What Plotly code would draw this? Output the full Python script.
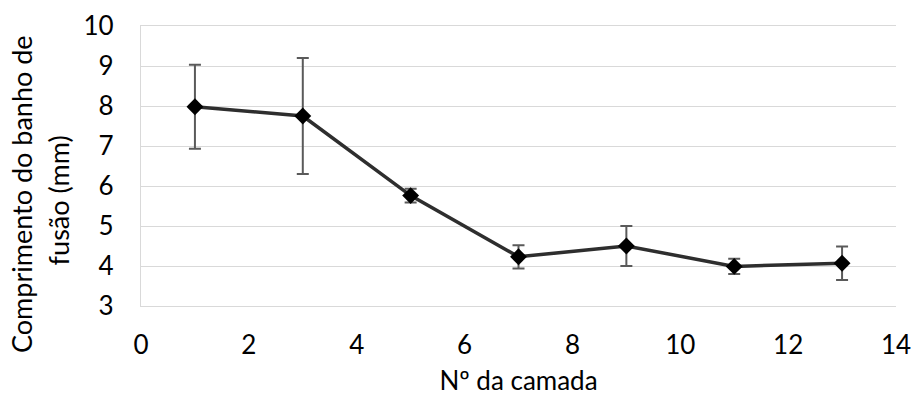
import plotly.graph_objects as go

# Layer number and measured melt-pool length (mean ± std)
camada = [1, 3, 5, 7, 9, 11, 13]
comprimento = [7.98, 7.75, 5.76, 4.23, 4.50, 3.99, 4.07]
desvio = [1.05, 1.45, 0.17, 0.29, 0.50, 0.19, 0.42]

x_ticks = [0, 2, 4, 6, 8, 10, 12, 14]
y_ticks = [3, 4, 5, 6, 7, 8, 9, 10]

FONT = "Lato"
FS = 26
GRID = "#d9d9d9"

fig = go.Figure()
fig.add_trace(go.Scatter(
    x=camada,
    y=comprimento,
    mode="lines+markers",
    line=dict(color="#2e2e2e", width=3.5),
    marker=dict(symbol="diamond", size=13, color="#000000"),
    error_y=dict(type="data", array=desvio, visible=True,
                 color="#5a5a5a", thickness=2, width=6),
    showlegend=False,
))

fig.update_layout(
    width=912, height=396,
    margin=dict(l=141, r=16, t=26, b=90),
    paper_bgcolor="white", plot_bgcolor="white",
    font=dict(family=FONT, size=FS, color="#000000"),
    xaxis=dict(
        range=[0, 14], tickvals=x_ticks, ticktext=[str(v) for v in x_ticks],
        showgrid=False, zeroline=False,
        showline=True, mirror=True, linecolor=GRID, linewidth=1.3,
        ticks="", ticklabelstandoff=16, automargin=False,
        title=dict(text="Nº da camada", standoff=20,
                   font=dict(family=FONT, size=FS)),
    ),
    yaxis=dict(
        range=[3, 10], tickvals=y_ticks, ticktext=[str(v) for v in y_ticks],
        showgrid=True, gridcolor=GRID, gridwidth=1.3,
        zeroline=False, showline=True, linecolor=GRID, linewidth=1.3,
        ticks="", ticklabelstandoff=21, automargin=False,
    ),
)

# Two-line y-axis title, drawn as separate rotated lines
y_title = ["Comprimento do banho de", "fusão (mm)"]
y_title_x = [-0.159, -0.110]
y_title_y = [0.40, 0.377]
for txt, xp, yp in zip(y_title, y_title_x, y_title_y):
    fig.add_annotation(
        text=txt, xref="paper", yref="paper", x=xp, y=yp,
        xanchor="center", yanchor="middle", textangle=-90,
        showarrow=False, font=dict(family=FONT, size=27, color="#000000"),
    )

fig.write_html("out.html")
